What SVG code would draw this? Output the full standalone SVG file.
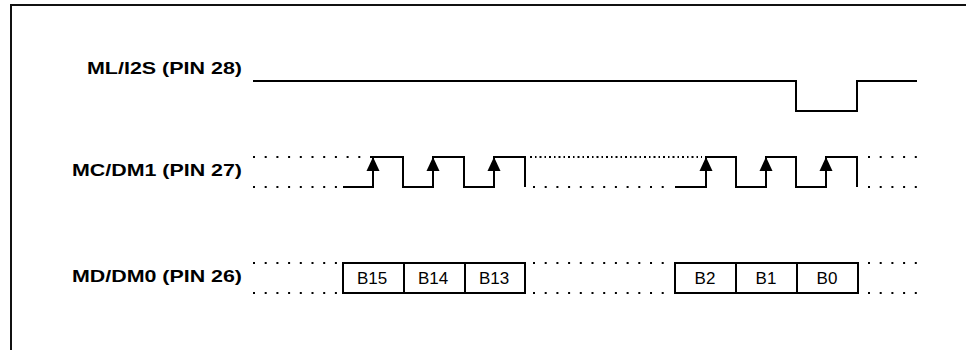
<svg xmlns="http://www.w3.org/2000/svg" width="966" height="350" viewBox="0 0 966 350">
<style>
.lbl{font-family:"Liberation Sans",Arial,sans-serif;font-weight:bold;font-size:17px;fill:#000}
.bt{font-family:"Liberation Sans",Arial,sans-serif;font-size:17px;fill:#000;text-anchor:middle}
.sig{fill:none;stroke:#000;stroke-width:2;stroke-linejoin:miter}
.dot{fill:none;stroke:#000;stroke-width:2;stroke-dasharray:2 9.7}
.box{fill:#fff;stroke:#000;stroke-width:2}
</style>
<defs>
<path id="arr" d="M0,0 L-6.5,14 L6.5,14 Z" fill="#000"/>
</defs>
<rect width="966" height="350" fill="#fff"/>
<g id="frame">
<path d="M10,5 H966 M11,5 V350" fill="none" stroke="#111" stroke-width="2"/>
</g>
<g id="ml">
<text class="lbl" x="242" y="74" text-anchor="end" textLength="155" lengthAdjust="spacingAndGlyphs">ML/I2S (PIN 28)</text>
</g>
<g id="mc">
<text class="lbl" x="242" y="176" text-anchor="end" textLength="170" lengthAdjust="spacingAndGlyphs">MC/DM1 (PIN 27)</text>
</g>
<g id="md">
<text class="lbl" x="242" y="282" text-anchor="end" textLength="170" lengthAdjust="spacingAndGlyphs">MD/DM0 (PIN 26)</text>
<rect class="box" x="343" y="263" width="61" height="30"/>
<rect class="box" x="404" y="263" width="61" height="30"/>
<rect class="box" x="465" y="263" width="60" height="30"/>
<rect class="box" x="675" y="263" width="61" height="30"/>
<rect class="box" x="736" y="263" width="61" height="30"/>
<rect class="box" x="797" y="263" width="61" height="30"/>
<text class="bt" x="372" y="284">B15</text>
<text class="bt" x="433" y="284">B14</text>
<text class="bt" x="494" y="284">B13</text>
<text class="bt" x="705" y="284">B2</text>
<text class="bt" x="766" y="284">B1</text>
<text class="bt" x="827" y="284">B0</text>
</g>
<g id="connectors">
<path class="sig" d="M253,81 H796 V111 H857 V81 H917"/>
<path class="sig" d="M343,187 H373 V157 H403 V187 H433 V157 H464 V187 H494 V157 H525 V187"/>
<path class="sig" d="M675,187 H706 V157 H736 V187 H766 V157 H796 V187 H826 V157 H857 V187"/>
<use href="#arr" x="373" y="157"/>
<use href="#arr" x="433" y="157"/>
<use href="#arr" x="494" y="157"/>
<use href="#arr" x="706" y="157"/>
<use href="#arr" x="766" y="157"/>
<use href="#arr" x="826" y="157"/>
<path class="dot" d="M253,157 H372 M253,187 H340 M533,187 H670 M868,157 H920 M868,187 H920"/>
<path fill="none" stroke="#000" stroke-width="2" stroke-dasharray="2 3 1.5 3" d="M530,157 H702"/>
<path class="dot" d="M253,263 H340 M253,293 H340 M533,263 H670 M533,293 H670 M868,263 H920 M868,293 H920"/>
</g>
</svg>
